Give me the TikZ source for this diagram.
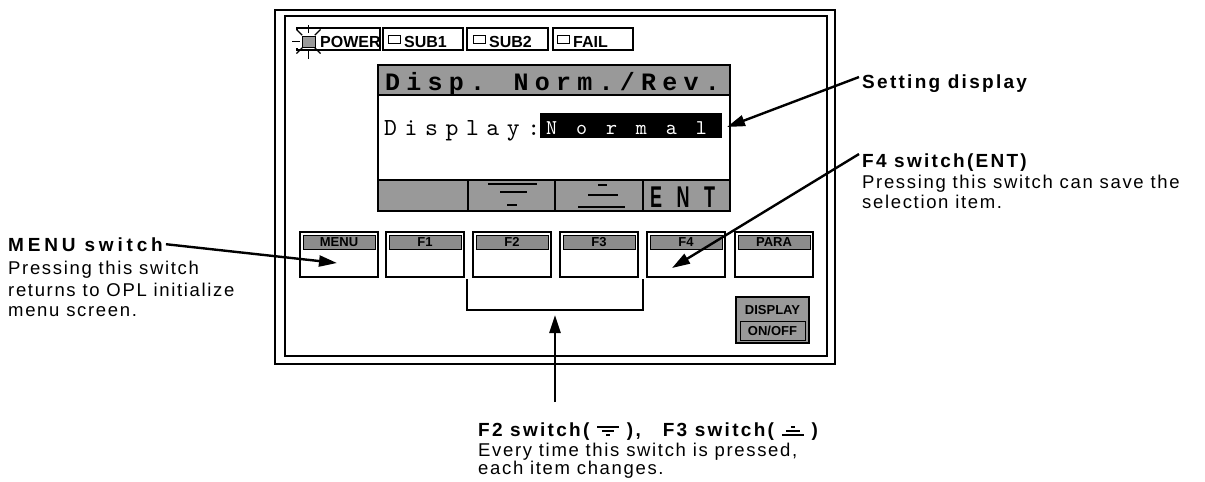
\documentclass[tikz,border=0pt]{standalone}
\usepackage{fontspec}
\usepackage{graphicx}
\setmainfont{Liberation Sans}
\newfontfamily\notefam{Liberation Sans}[LetterSpace=9]
\newfontfamily\noteBfam{Liberation Sans}[LetterSpace=12]
\newfontfamily\hdrfam{Liberation Mono}[LetterSpace=25]
\newfontfamily\dispfam{lmmono10-regular.otf}[LetterSpace=31]
\newfontfamily\normfam{lmmono10-regular.otf}[LetterSpace=90]
\usetikzlibrary{arrows.meta,calc}
\newcommand\symdn{\tikz[x=1pt,y=1pt,baseline=0pt,line width=1.6pt]{\draw (0,9)--(22,9); \draw (5,5)--(17,5); \draw (9,1.2)--(13,1.2);}}
\newcommand\symup{\tikz[x=1pt,y=1pt,baseline=0pt,line width=1.6pt]{\draw (9,9)--(13,9); \draw (4,5)--(18,5); \draw (0,1.2)--(22,1.2);}}
\tikzset{
  outerframe/.style={draw, line width=2.6pt},
  innerframe/.style={draw, line width=1.4pt},
  hatch/.style={fill=black!40},
  ind/.style={draw, line width=1.5pt},
  screenline/.style={draw, line width=1.8pt},
  btn/.style={draw, line width=1.4pt},
  btnlab/.style={fill=black!45, draw=black, line width=0.8pt, inner sep=0pt, minimum width=72pt, minimum height=14pt, font=\fontsize{13}{13}\selectfont\bfseries},
  indlab/.style={anchor=base west, inner sep=0pt, font=\fontsize{16}{16}\selectfont\bfseries},
  note/.style={anchor=base west, inner sep=0pt, font=\notefam\fontsize{18.5}{20}\selectfont},
  noteb/.style={anchor=base west, inner sep=0pt, font=\noteBfam\bfseries\fontsize{19}{21}\selectfont},
  callout/.style={line width=2.4pt, -{Triangle[length=18pt,width=11pt]}},
  bar/.style={line width=2.6pt},
}
\begin{document}
\begin{tikzpicture}[x=1pt,y=-1pt]
\useasboundingbox (0,0) rectangle (1205,482);
% frames
\draw[outerframe] (275,10) rectangle (835,364);
\draw[innerframe] (285,16) rectangle (827,356);
% indicator boxes
\draw[ind] (297,28) rectangle (380,50);
\draw[ind] (383,28) rectangle (463,50);
\draw[ind] (467,28) rectangle (548,50);
\draw[ind] (553,28) rectangle (633,50);
\fill[white] (292,30) rectangle (319,48);
\draw[line width=0.9pt, hatch] (302,36) rectangle (315,47);
\foreach \a in {45,90,135,180,225,270,315}
  \draw[line width=1.2pt] ($(308.5,41.5)+(\a:9)$) -- ($(308.5,41.5)+(\a:17)$);
\node[indlab] (power) at (320,47) {POWER};
\draw[line width=1pt] (388,35) rectangle (400,43);
\node[indlab] (sub1) at (404,47) {SUB1};
\draw[line width=1pt] (473,35) rectangle (485,43);
\node[indlab] (sub2) at (489,47) {SUB2};
\draw[line width=1pt] (557,35) rectangle (569,43);
\node[indlab] (fail) at (573,47) {FAIL};
% screen
\fill[black!40] (378,65) rectangle (730,95);
\fill[black!40] (378,180) rectangle (730,211);
\draw[screenline] (378,65) rectangle (730,211);
\draw[screenline] (378,95) -- (730,95);
\draw[screenline] (378,180) -- (730,180);
\foreach \x in {468,555,643} \draw[line width=1.4pt] (\x,180) -- (\x,211);
\node[anchor=base west, inner sep=0pt, font=\hdrfam\bfseries\fontsize{25}{25}\selectfont] (hdr) at (385,90) {Disp. Norm./Rev.};
\node[anchor=base west, inner sep=0pt, font=\dispfam\fontsize{24.5}{25}\selectfont] (disp) at (384,135) {Display:};
\fill[black] (540,113) rectangle (722,138);
\node[anchor=base west, inner sep=0pt, text=white, font=\normfam\fontsize{21}{21}\selectfont] (norm) at (546,134) {Normal};
% band symbols
\draw[bar] (488,184) -- (537,184);
\draw[bar] (500,192) -- (527,192);
\draw[bar] (507,205) -- (517,205);
\draw[bar] (598,185) -- (607,185);
\draw[bar] (588,195) -- (618,195);
\draw[bar] (578,207) -- (625,207);
\node[anchor=base west, inner sep=0pt] (ent) at (650,207) {\scalebox{0.6}[1]{\fontsize{30}{30}\selectfont\bfseries\addfontfeatures{LetterSpace=80}ENT}};
% buttons
\foreach \nm/\x/\lab in {menu/300/MENU, fone/386/F1, ftwo/473/F2, fthree/560/F3, ffour/647/F4, para/735/PARA} {
  \draw[btn] (\x,232) rectangle ++(78,45);
  \node[btnlab] (\nm) at (\x+39,242) {\lab};
}
% display on/off
\draw[line width=1.5pt, hatch] (736,297) rectangle (809,343);
\draw[line width=1pt] (740,321) rectangle (805,340);
\node[inner sep=0pt, font=\fontsize{13}{13}\selectfont\bfseries] (dspl) at (772.5,310) {DISPLAY};
\node[inner sep=0pt, font=\fontsize{13}{13}\selectfont\bfseries] (onoff) at (772.5,331) {ON/OFF};
% bracket
\draw[line width=1.6pt] (467,279) -- (467,310) -- (643,310) -- (643,279);
\coordinate (brk) at (555,315);
\coordinate (botstart) at (555,402);
\draw[callout] (botstart) -- (brk);
% callouts right
\node[noteb] (setT) at (862,88) {Setting display};
\coordinate (setTip) at (727,127);
\draw[callout] ([shift={(-3,3)}]setT.north west) -- (setTip);
\node[noteb] (f4T) at (862,167) {F4 switch(ENT)};
\node[note] (f4a) at (862,188) {Pressing this switch can save the};
\node[note] (f4b) at (862,208) {selection item.};
\coordinate (f4Tip) at (672,268);
\draw[callout] ([shift={(-3,1)}]f4T.north west) -- (f4Tip);
% callout left
\node[noteb, font=\noteBfam\bfseries\fontsize{19}{21}\selectfont\addfontfeatures{LetterSpace=20}] (menuT) at (8,251) {MENU switch};
\node[note] (menua) at (8,274) {Pressing this switch};
\node[note] (menub) at (8,296) {returns to OPL initialize};
\node[note] (menuc) at (8,316) {menu screen.};
\coordinate (menuTip) at (337,263);
\draw[callout] ([xshift=3pt]menuT.east) -- (menuTip);
% bottom text
\node[noteb] (botT) at (478,436) {F2 switch(\hspace{7pt}\symdn\hspace{7pt}),\hspace{22pt}F3 switch(\hspace{7pt}\symup\hspace{7pt})};
\node[note] (bota) at (478,456) {Every time this switch is pressed,};
\node[note] (botb) at (478,474) {each item changes.};
\end{tikzpicture}
\end{document}
